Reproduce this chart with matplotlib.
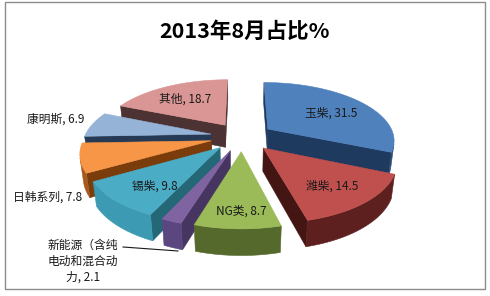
import numpy as np
import matplotlib
matplotlib.use("Agg")
import matplotlib.pyplot as plt
from matplotlib.patches import Polygon, Rectangle

plt.rcParams['font.family'] = ['Noto Sans CJK SC', 'DejaVu Sans']

# ---------------- data ----------------
title = '2013年8月占比%'
categories = ['玉柴', '潍柴', 'NG类', '新能源（含纯电动和混合动力', '锡柴', '日韩系列', '康明斯', '其他']
values = [31.5, 14.5, 8.7, 2.1, 9.8, 7.8, 6.9, 18.7]

# ---------------- styles ----------------
top_colors = ['#4F81BD', '#C0504D', '#9BBB59', '#8064A2', '#4BACC6', '#F79646', '#95B3D7', '#D99694']
rim_colors = ['#2A4A74', '#5E201E', '#56692C', '#5B4680', '#3C9AB3', '#A85A1C', '#4E6A94', '#8F4F4D']
cut_colors = ['#1F3A5F', '#431513', '#3E4D1F', '#463560', '#246878', '#7A3C0B', '#263A55', '#4C3232']

# label layout (pixel positions in the 490x296 canvas)
label_pos = [(331, 113), (332, 186), (241, 211), (83, 261), (155, 186), (48, 197), (56, 119), (185, 99)]

W, H = 490, 296
elev = np.radians(29.0)
fdist = 5.0
depth = 0.205
explode = 0.25
Rs = 124.0            # pixels per unit radius
cx = 242.0            # pixel x of pie origin
apex_py = 129.0       # pixel y of first slice's apex (top face)
start_angle = 90.0

cam = np.array([0.0, -fdist * np.cos(elev), fdist * np.sin(elev)])


def proj(x, y, z):
    x = np.asarray(x, float); y = np.asarray(y, float); z = np.asarray(z, float)
    D = y * np.cos(elev) - z * np.sin(elev)
    s = fdist / (fdist + D)
    return x * s, (y * np.sin(elev) + z * np.cos(elev)) * s


def visible(normal, point):
    return np.dot(normal, cam - point) > 0


total = sum(values)
angles = []
acc = 0.0
for v in values:
    t1 = start_angle - acc / total * 360.0
    t2 = t1 - v / total * 360.0
    angles.append((t1, t2))
    acc += v

# vertical placement: first slice apex at apex_py
m0 = np.radians(sum(angles[0]) / 2)
_, yb = proj(explode * np.cos(m0), explode * np.sin(m0), depth)
cy = apex_py + Rs * float(yb)


def px2data(px, py):
    return (px - cx) / Rs, (cy - py) / Rs


fig = plt.figure(figsize=(W / 100, H / 100), dpi=100)
ax = fig.add_axes([0, 0, 1, 1])
ax.set_xlim(-cx / Rs, (W - cx) / Rs)
ax.set_ylim((cy - H) / Rs, cy / Rs)
ax.axis('off')


def wedge_depth(i):
    t1, t2 = np.radians(angles[i])
    mid = (t1 + t2) / 2
    a = abs(t1 - t2) / 2
    r = explode + 2 * np.sin(a) / (3 * a)
    return r * np.sin(mid) * np.cos(elev)


order = sorted(range(len(values)), key=wedge_depth, reverse=True)

for i in order:
    t1d, t2d = angles[i]
    t1, t2 = np.radians(t1d), np.radians(t2d)
    mid = (t1 + t2) / 2
    ox, oy = explode * np.cos(mid), explode * np.sin(mid)
    n = max(int(abs(t1d - t2d) / 1.0), 4)
    th = np.linspace(t1, t2, n + 1)
    ax_x = ox + np.cos(th)
    ax_y = oy + np.sin(th)
    polys = []
    # radial cut faces
    for t, sign in ((t1, 1), (t2, -1)):
        nrm = np.array([-np.sin(t), np.cos(t), 0.0]) * sign
        pm = np.array([ox + 0.5 * np.cos(t), oy + 0.5 * np.sin(t), depth / 2])
        if visible(nrm, pm):
            xs = [ox, ox + np.cos(t), ox + np.cos(t), ox]
            ys = [oy, oy + np.sin(t), oy + np.sin(t), oy]
            zs = [0, 0, depth, depth]
            X, Y = proj(xs, ys, zs)
            polys.append((np.column_stack([X, Y]), cut_colors[i]))
    # outer rim
    mids = (th[:-1] + th[1:]) / 2
    vis = []
    for m in mids:
        nrm = np.array([np.cos(m), np.sin(m), 0.0])
        pm = np.array([ox + np.cos(m), oy + np.sin(m), depth / 2])
        vis.append(visible(nrm, pm))
    j = 0
    while j < len(mids):
        if vis[j]:
            k = j
            while k < len(mids) and vis[k]:
                k += 1
            seg = th[j:k + 1]
            sx = ox + np.cos(seg); sy = oy + np.sin(seg)
            Xt, Yt = proj(sx, sy, np.full_like(seg, depth))
            Xb, Yb = proj(sx, sy, np.zeros_like(seg))
            pts = np.column_stack([np.concatenate([Xt, Xb[::-1]]), np.concatenate([Yt, Yb[::-1]])])
            polys.append((pts, rim_colors[i]))
            j = k
        else:
            j += 1
    # top face
    xs = np.concatenate([[ox], ax_x])
    ys = np.concatenate([[oy], ax_y])
    X, Y = proj(xs, ys, np.full_like(xs, depth))
    polys.append((np.column_stack([X, Y]), top_colors[i]))
    for pts, col in polys:
        ax.add_patch(Polygon(pts, closed=True, facecolor=col, edgecolor=col, lw=0.4, zorder=2))

# labels
for i, (cat, v) in enumerate(zip(categories, values)):
    if len(cat) > 6:
        txt = cat[:6] + '\n' + cat[6:12] + '\n' + cat[12:] + f', {v}'
    else:
        txt = f'{cat}, {v}'
    x, y = px2data(*label_pos[i])
    ax.text(x, y, txt, ha='center', va='center', fontsize=8.5, color='#1a1a1a',
            linespacing=1.3, zorder=5)

# leader line for the small slice
lx0, ly0 = px2data(123, 247)
lx1, ly1 = px2data(178, 251)
ax.plot([lx0, lx1], [ly0, ly1], color='#1a1a1a', lw=0.8, zorder=4)

# title
tx, ty = px2data(245, 31)
ax.text(tx, ty, title, ha='center', va='center', fontsize=15.5, fontweight='bold', color='#000000', zorder=5)

# chart border
bx0, by0 = px2data(5, 2)
bx1, by1 = px2data(485, 289)
ax.add_patch(Rectangle((bx0, by1), bx1 - bx0, by0 - by1, fill=False, edgecolor='#8c8c8c', lw=1.0, zorder=1))

fig.savefig('out.png', dpi=100)
